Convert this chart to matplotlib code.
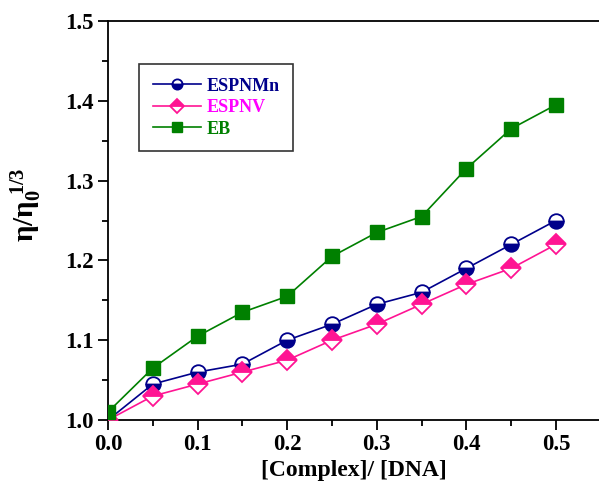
import matplotlib
matplotlib.use("Agg")
import matplotlib.pyplot as plt
from matplotlib.ticker import MultipleLocator

plt.rcParams['font.family'] = ['Liberation Serif', 'DejaVu Serif']
plt.rcParams['font.weight'] = 'bold'
plt.rcParams['mathtext.fontset'] = 'custom'
plt.rcParams['mathtext.rm'] = 'Liberation Serif:bold'
plt.rcParams['mathtext.it'] = 'Liberation Serif:bold'
plt.rcParams['mathtext.bf'] = 'Liberation Serif:bold'

ratio = [0.0, 0.05, 0.10, 0.15, 0.20, 0.25, 0.30, 0.35, 0.40, 0.45, 0.50]
espnmn = [1.000, 1.045, 1.060, 1.070, 1.100, 1.120, 1.145, 1.160, 1.190, 1.220, 1.250]
espnv = [1.000, 1.030, 1.045, 1.060, 1.075, 1.100, 1.120, 1.145, 1.170, 1.190, 1.220]
eb = [1.010, 1.065, 1.105, 1.135, 1.155, 1.205, 1.235, 1.255, 1.315, 1.365, 1.395]

c_mn = '#00008B'
c_v = '#FF1493'
c_eb = '#008000'

fig = plt.figure(figsize=(5.99, 4.83), dpi=100)
ax = fig.add_axes([108/599, 63/483, (599-108)/599, (420-21)/483])

ax.plot(ratio, espnmn, color=c_mn, lw=1.2, marker='o', ms=10.5, mew=1.3,
        fillstyle='bottom', markerfacecolor=c_mn, markerfacecoloralt='white',
        markeredgecolor=c_mn, label='ESPNMn', zorder=3)
ax.plot(ratio, espnv, color=c_v, lw=1.2, marker='D', ms=10, mew=1.3,
        fillstyle='top', markerfacecolor=c_v, markerfacecoloralt='white',
        markeredgecolor=c_v, label='ESPNV', zorder=3)
ax.plot(ratio, eb, color=c_eb, lw=1.2, marker='s', ms=10, mew=1.0,
        markerfacecolor=c_eb, markeredgecolor=c_eb, label='EB', zorder=3)

ax.set_xlim(0, 0.548)
ax.set_ylim(1.0, 1.5)
ax.xaxis.set_minor_locator(MultipleLocator(0.05))
ax.yaxis.set_minor_locator(MultipleLocator(0.05))
ax.set_xticks([0.0, 0.1, 0.2, 0.3, 0.4, 0.5])
ax.set_xticklabels(['0.0', '0.1', '0.2', '0.3', '0.4', '0.5'])
ax.set_yticks([1.0, 1.1, 1.2, 1.3, 1.4, 1.5])
ax.set_yticklabels(['1.0', '1.1', '1.2', '1.3', '1.4', '1.5'])
ax.tick_params(which='major', direction='out', length=7, width=1.3, labelsize=16.5, pad=3)
ax.tick_params(which='minor', direction='out', length=4, width=1.3)
ax.tick_params(top=False, right=False, which='both')
for lab in ax.get_xticklabels() + ax.get_yticklabels():
    lab.set_fontweight('bold')

for s in ['left', 'bottom', 'top']:
    ax.spines[s].set_linewidth(1.3)
ax.spines['right'].set_visible(False)

ax.set_xlabel('[Complex]/ [DNA]', fontsize=17, fontweight='bold', labelpad=4)
ax.set_ylabel(r'$\mathrm{\eta/\eta}_{0}^{\ 1/3}$', fontsize=21)
ax.yaxis.set_label_coords(-0.13, 0.54)

leg = ax.legend(loc='upper left', bbox_to_anchor=(31/491, (420-64)/399),
                prop={'family': 'Liberation Serif', 'weight': 'bold', 'size': 13},
                frameon=True, fancybox=False, edgecolor='black',
                handlelength=2.7, handletextpad=0.3, labelspacing=0.25,
                borderpad=0.75, borderaxespad=0, markerscale=0.7)
leg.get_frame().set_linewidth(1.2)
for t, c in zip(leg.get_texts(), [c_mn, '#FF00FF', c_eb]):
    t.set_color(c)

fig.savefig('out.png', dpi=100)
